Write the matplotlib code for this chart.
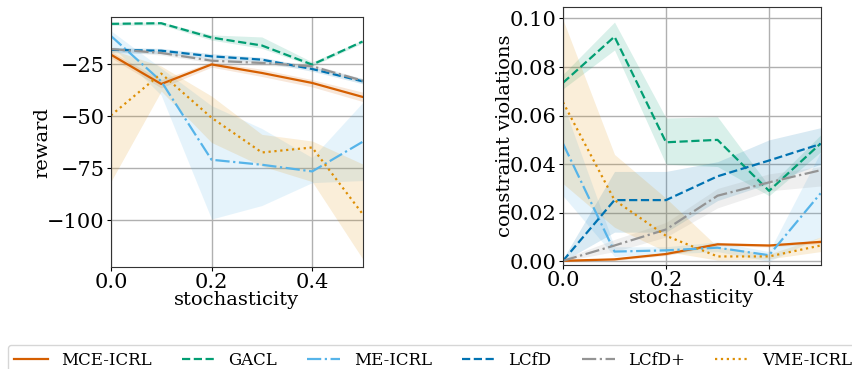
import matplotlib
matplotlib.use("Agg")
import matplotlib.pyplot as plt
import numpy as np

plt.rcParams['font.family'] = 'DejaVu Serif'

stoch = [0.0, 0.1, 0.2, 0.3, 0.4, 0.5]
methods = ["MCE-ICRL", "GACL", "ME-ICRL", "LCfD", "LCfD+", "VME-ICRL"]

# reward: mean, lower, upper
reward_mean = {
    "MCE-ICRL": [-20.5, -34.6, -25.2, -29.3, -34.1, -40.8],
    "GACL":     [-5.7, -5.4, -12.3, -16.1, -25.3, -14.2],
    "ME-ICRL":  [-11.5, -33.3, -71.0, -73.4, -76.6, -62.4],
    "LCfD":     [-18.2, -18.6, -21.3, -22.9, -27.4, -33.3],
    "LCfD+":    [-17.8, -19.7, -23.4, -24.5, -26.1, -33.0],
    "VME-ICRL": [-49.7, -29.6, -50.8, -67.5, -65.1, -97.0],
}
reward_lo = {
    "MCE-ICRL": [-22.0, -36.5, -26.5, -31.0, -36.0, -43.0],
    "GACL":     [-6.5, -6.2, -13.5, -17.5, -26.0, -15.0],
    "ME-ICRL":  [-16.0, -40.0, -99.5, -93.0, -82.0, -81.0],
    "LCfD":     [-19.5, -20.0, -22.5, -24.0, -28.5, -34.5],
    "LCfD+":    [-18.8, -20.7, -24.4, -25.5, -27.1, -34.0],
    "VME-ICRL": [-81.5, -38.0, -62.7, -74.0, -81.5, -118.5],
}
reward_hi = {
    "MCE-ICRL": [-19.0, -32.5, -24.0, -27.5, -32.5, -38.5],
    "GACL":     [-5.0, -4.8, -11.0, -12.0, -24.0, -13.5],
    "ME-ICRL":  [-9.0, -27.0, -45.0, -56.0, -70.0, -43.6],
    "LCfD":     [-17.0, -17.5, -20.0, -21.8, -26.3, -32.0],
    "LCfD+":    [-16.8, -18.7, -22.4, -23.5, -25.1, -32.0],
    "VME-ICRL": [-18.0, -26.0, -40.4, -58.8, -62.0, -73.0],
}

# constraint violations: mean, lower, upper
cv_mean = {
    "MCE-ICRL": [0.0002, 0.0008, 0.0030, 0.0070, 0.0065, 0.0080],
    "GACL":     [0.0735, 0.0925, 0.0490, 0.0500, 0.0290, 0.0485],
    "ME-ICRL":  [0.0485, 0.0040, 0.0045, 0.0056, 0.0025, 0.0280],
    "LCfD":     [0.0002, 0.0252, 0.0252, 0.0350, 0.0415, 0.0483],
    "LCfD+":    [0.0002, 0.0065, 0.0131, 0.0270, 0.0325, 0.0375],
    "VME-ICRL": [0.0655, 0.0252, 0.0105, 0.0020, 0.0020, 0.0065],
}
cv_lo = {
    "MCE-ICRL": [0.0, 0.0003, 0.0024, 0.0064, 0.0059, 0.0073],
    "GACL":     [0.0710, 0.0870, 0.0400, 0.0390, 0.0270, 0.0450],
    "ME-ICRL":  [0.0270, 0.0020, 0.0030, 0.0040, 0.0000, 0.0100],
    "LCfD":     [0.0, 0.0120, 0.0120, 0.0250, 0.0320, 0.0400],
    "LCfD+":    [0.0, 0.0040, 0.0100, 0.0220, 0.0290, 0.0310],
    "VME-ICRL": [0.0320, 0.0140, 0.0040, 0.0005, 0.0010, 0.0040],
}
cv_hi = {
    "MCE-ICRL": [0.0006, 0.0013, 0.0036, 0.0076, 0.0071, 0.0087],
    "GACL":     [0.0770, 0.0985, 0.0590, 0.0595, 0.0310, 0.0520],
    "ME-ICRL":  [0.0650, 0.0060, 0.0060, 0.0080, 0.0040, 0.0450],
    "LCfD":     [0.0010, 0.0370, 0.0370, 0.0410, 0.0500, 0.0550],
    "LCfD+":    [0.0010, 0.0090, 0.0160, 0.0300, 0.0360, 0.0390],
    "VME-ICRL": [0.0995, 0.0440, 0.0260, 0.0060, 0.0030, 0.0100],
}

colors = {"MCE-ICRL": "#d55e00", "GACL": "#029e73", "ME-ICRL": "#56b4e9",
          "LCfD": "#0173b2", "LCfD+": "#949494", "VME-ICRL": "#de8f05"}
styles = {"MCE-ICRL": "-", "GACL": "--", "ME-ICRL": "-.",
          "LCfD": "--", "LCfD+": "-.", "VME-ICRL": ":"}

fig = plt.figure(figsize=(8.53, 3.69), dpi=100)
ax1 = fig.add_axes([0.130, 0.276, 0.295, 0.678])
ax2 = fig.add_axes([0.660, 0.282, 0.302, 0.699])

for ax, mean, lo, hi in [(ax1, reward_mean, reward_lo, reward_hi),
                         (ax2, cv_mean, cv_lo, cv_hi)]:
    for m in methods:
        ax.fill_between(stoch, lo[m], hi[m], color=colors[m], alpha=0.15, lw=0)
        ax.plot(stoch, mean[m], ls=styles[m], color=colors[m], lw=1.6, label=m)
    ax.set_xlim(0, 0.5)
    ax.set_xticks([0.0, 0.2, 0.4])
    ax.grid(True, color='#b0b0b0', lw=1)
    ax.set_axisbelow(True)
    ax.tick_params(labelsize=15, length=3, pad=1.5)
    ax.set_xlabel("stochasticity", fontsize=14, labelpad=-1)
    for s in ax.spines.values():
        s.set_color('#333333')

ax1.set_ylim(-122.6, -2.4)
ax1.set_yticks([-100, -75, -50, -25])
ax1.set_ylabel("reward", fontsize=14, labelpad=-3)
ax2.set_ylim(-0.0015, 0.1047)
ax2.set_yticks([0.0, 0.02, 0.04, 0.06, 0.08, 0.10])
ax2.yaxis.set_major_formatter(matplotlib.ticker.FormatStrFormatter('%.2f'))
ax2.set_ylabel("constraint violations", fontsize=14, labelpad=-3)

handles, labels = ax1.get_legend_handles_labels()
fig.legend(handles, labels, loc='upper left', bbox_to_anchor=(0.009, 0.065),
           ncol=6, fontsize=12, columnspacing=1.8,
           frameon=True, edgecolor='#cccccc', fancybox=True, borderaxespad=0)

fig.savefig("out.png", dpi=100)
